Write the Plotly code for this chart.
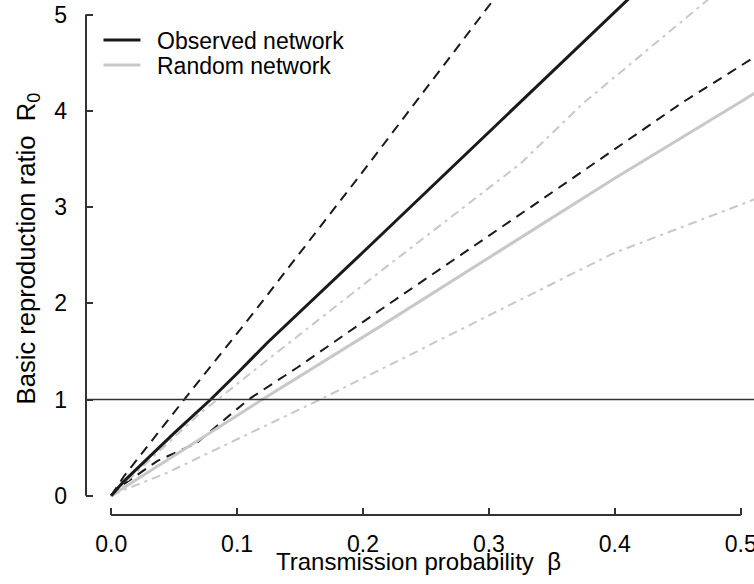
import plotly.graph_objects as go

# ---- data ----
beta_obs_mean = [0, 0.01, 0.05, 0.079, 0.1, 0.124, 0.2, 0.3, 0.4, 0.45]
r0_obs_mean = [0, 0.15, 0.65, 1.0, 1.27, 1.59, 2.53, 3.78, 5.03, 5.65]

beta_obs_upper = [0, 0.01, 0.058, 0.113, 0.2, 0.3, 0.35]
r0_obs_upper = [0, 0.2, 1.0, 1.9, 3.37, 5.1, 5.95]

beta_obs_lower = [0, 0.01, 0.0365, 0.068, 0.109, 0.1476, 0.2137, 0.33, 0.453, 0.55]
r0_obs_lower = [0, 0.12, 0.36, 0.55, 1.0, 1.33, 1.93, 2.97, 4.08, 4.88]

beta_rnd_mean = [0, 0.05, 0.12, 0.2137, 0.3, 0.4, 0.502, 0.55]
r0_rnd_mean = [0, 0.42, 1.0, 1.76, 2.47, 3.30, 4.11, 4.5]

beta_rnd_upper = [0, 0.01, 0.07, 0.124, 0.2137, 0.325, 0.375, 0.4717, 0.55]
r0_rnd_upper = [0, 0.12, 0.85, 1.41, 2.33, 3.45, 4.08, 5.13, 5.98]

beta_rnd_lower = [0, 0.01, 0.044, 0.1106, 0.166, 0.2137, 0.325, 0.399, 0.509, 0.55]
r0_rnd_lower = [0, 0.06, 0.236, 0.65, 1.0, 1.31, 2.035, 2.52, 3.07, 3.27]

threshold = 1
x_ticks = [0, 0.1, 0.2, 0.3, 0.4, 0.5]
x_tick_labels = ["0.0", "0.1", "0.2", "0.3", "0.4", "0.5"]
y_ticks = [0, 1, 2, 3, 4, 5]
y_tick_labels = ["0", "1", "2", "3", "4", "5"]
legend_labels = ["Observed network", "Random network"]

# ---- styling / layout geometry ----
FONT = "Liberation Sans, Arial, Helvetica, sans-serif"
FS = 23
BLACK = "#1a1a1a"
GREY = "#c8c8c8"
W, H = 754, 584
L, B = 85.5, 68.7
PW, PH = W - L, H - B
XR = [-0.02, -0.02 + PW / 1260.0]
YR = [-0.2, -0.2 + PH / 96.3]


def px(xp):
    return (xp - L) / PW


def py(yp):
    return (PH - yp) / PH


fig = go.Figure()

fig.add_trace(go.Scatter(x=beta_obs_upper, y=r0_obs_upper, mode="lines",
                         line=dict(color=BLACK, width=2, dash="10px,7px"), showlegend=False))
fig.add_trace(go.Scatter(x=beta_obs_lower, y=r0_obs_lower, mode="lines",
                         line=dict(color=BLACK, width=2, dash="10px,7px"), showlegend=False))
fig.add_trace(go.Scatter(x=beta_rnd_upper, y=r0_rnd_upper, mode="lines",
                         line=dict(color=GREY, width=2, dash="9px,5px,3px,5px"), showlegend=False))
fig.add_trace(go.Scatter(x=beta_rnd_lower, y=r0_rnd_lower, mode="lines",
                         line=dict(color=GREY, width=2, dash="9px,5px,3px,5px"), showlegend=False))
fig.add_trace(go.Scatter(x=beta_rnd_mean, y=r0_rnd_mean, mode="lines",
                         line=dict(color=GREY, width=3), showlegend=False))
fig.add_trace(go.Scatter(x=beta_obs_mean, y=r0_obs_mean, mode="lines",
                         line=dict(color=BLACK, width=3), showlegend=False))

shapes = [
    # threshold line
    dict(type="line", xref="paper", yref="y", x0=0, x1=1, y0=threshold, y1=threshold,
         line=dict(color="#333333", width=1.5), layer="above"),
    # axis lines (R style, only over tick range)
    dict(type="line", xref="x", yref="paper", x0=x_ticks[0], x1=x_ticks[-1], y0=0, y1=0,
         line=dict(color="#333333", width=2)),
    dict(type="line", xref="paper", yref="y", x0=0, x1=0, y0=y_ticks[0], y1=y_ticks[-1],
         line=dict(color="#333333", width=2)),
    # legend samples
    dict(type="line", xref="paper", yref="paper", x0=px(103), x1=px(140), y0=py(40), y1=py(40),
         line=dict(color=BLACK, width=3)),
    dict(type="line", xref="paper", yref="paper", x0=px(103), x1=px(140), y0=py(65), y1=py(65),
         line=dict(color=GREY, width=3)),
]

annotations = [
    dict(text=legend_labels[0], xref="paper", yref="paper", x=px(155), y=py(41.5),
         xanchor="left", yanchor="middle", showarrow=False, font=dict(size=FS, color="black")),
    dict(text=legend_labels[1], xref="paper", yref="paper", x=px(155), y=py(66.5),
         xanchor="left", yanchor="middle", showarrow=False, font=dict(size=FS, color="black")),
    dict(text="Transmission probability\u00a0\u00a0\u03b2", xref="paper", yref="paper",
         x=px(418), y=py(562), xanchor="center", yanchor="middle", showarrow=False,
         font=dict(size=24, color="black")),
    dict(text="Basic reproduction ratio\u00a0\u00a0R<sub>0</sub>", xref="paper", yref="paper",
         x=px(27), y=py(249), xanchor="center", yanchor="middle", textangle=-90,
         showarrow=False, font=dict(size=25.6, color="black")),
]

fig.update_layout(
    width=W, height=H,
    margin=dict(l=L, r=0, t=0, b=B, pad=0, autoexpand=False),
    paper_bgcolor="white", plot_bgcolor="white",
    font=dict(family=FONT, size=FS, color="black"),
    shapes=shapes, annotations=annotations, showlegend=False,
    xaxis=dict(range=XR, tickvals=x_ticks, ticktext=x_tick_labels, ticks="inside",
               ticklen=7, tickwidth=1.5, tickcolor="#333333", showgrid=False,
               zeroline=False, showline=False, automargin=False,
               ticklabelstandoff=13, ticklabeloverflow="allow", tickfont=dict(size=FS)),
    yaxis=dict(range=YR, tickvals=y_ticks, ticktext=y_tick_labels, ticks="inside",
               ticklen=7, tickwidth=1.5, tickcolor="#333333", showgrid=False,
               zeroline=False, showline=False, automargin=False,
               ticklabelstandoff=18, ticklabeloverflow="allow", tickfont=dict(size=FS)),
)

fig.write_html("out.html", config={"displayModeBar": False},
               post_script="document.body.style.margin='0px';")
